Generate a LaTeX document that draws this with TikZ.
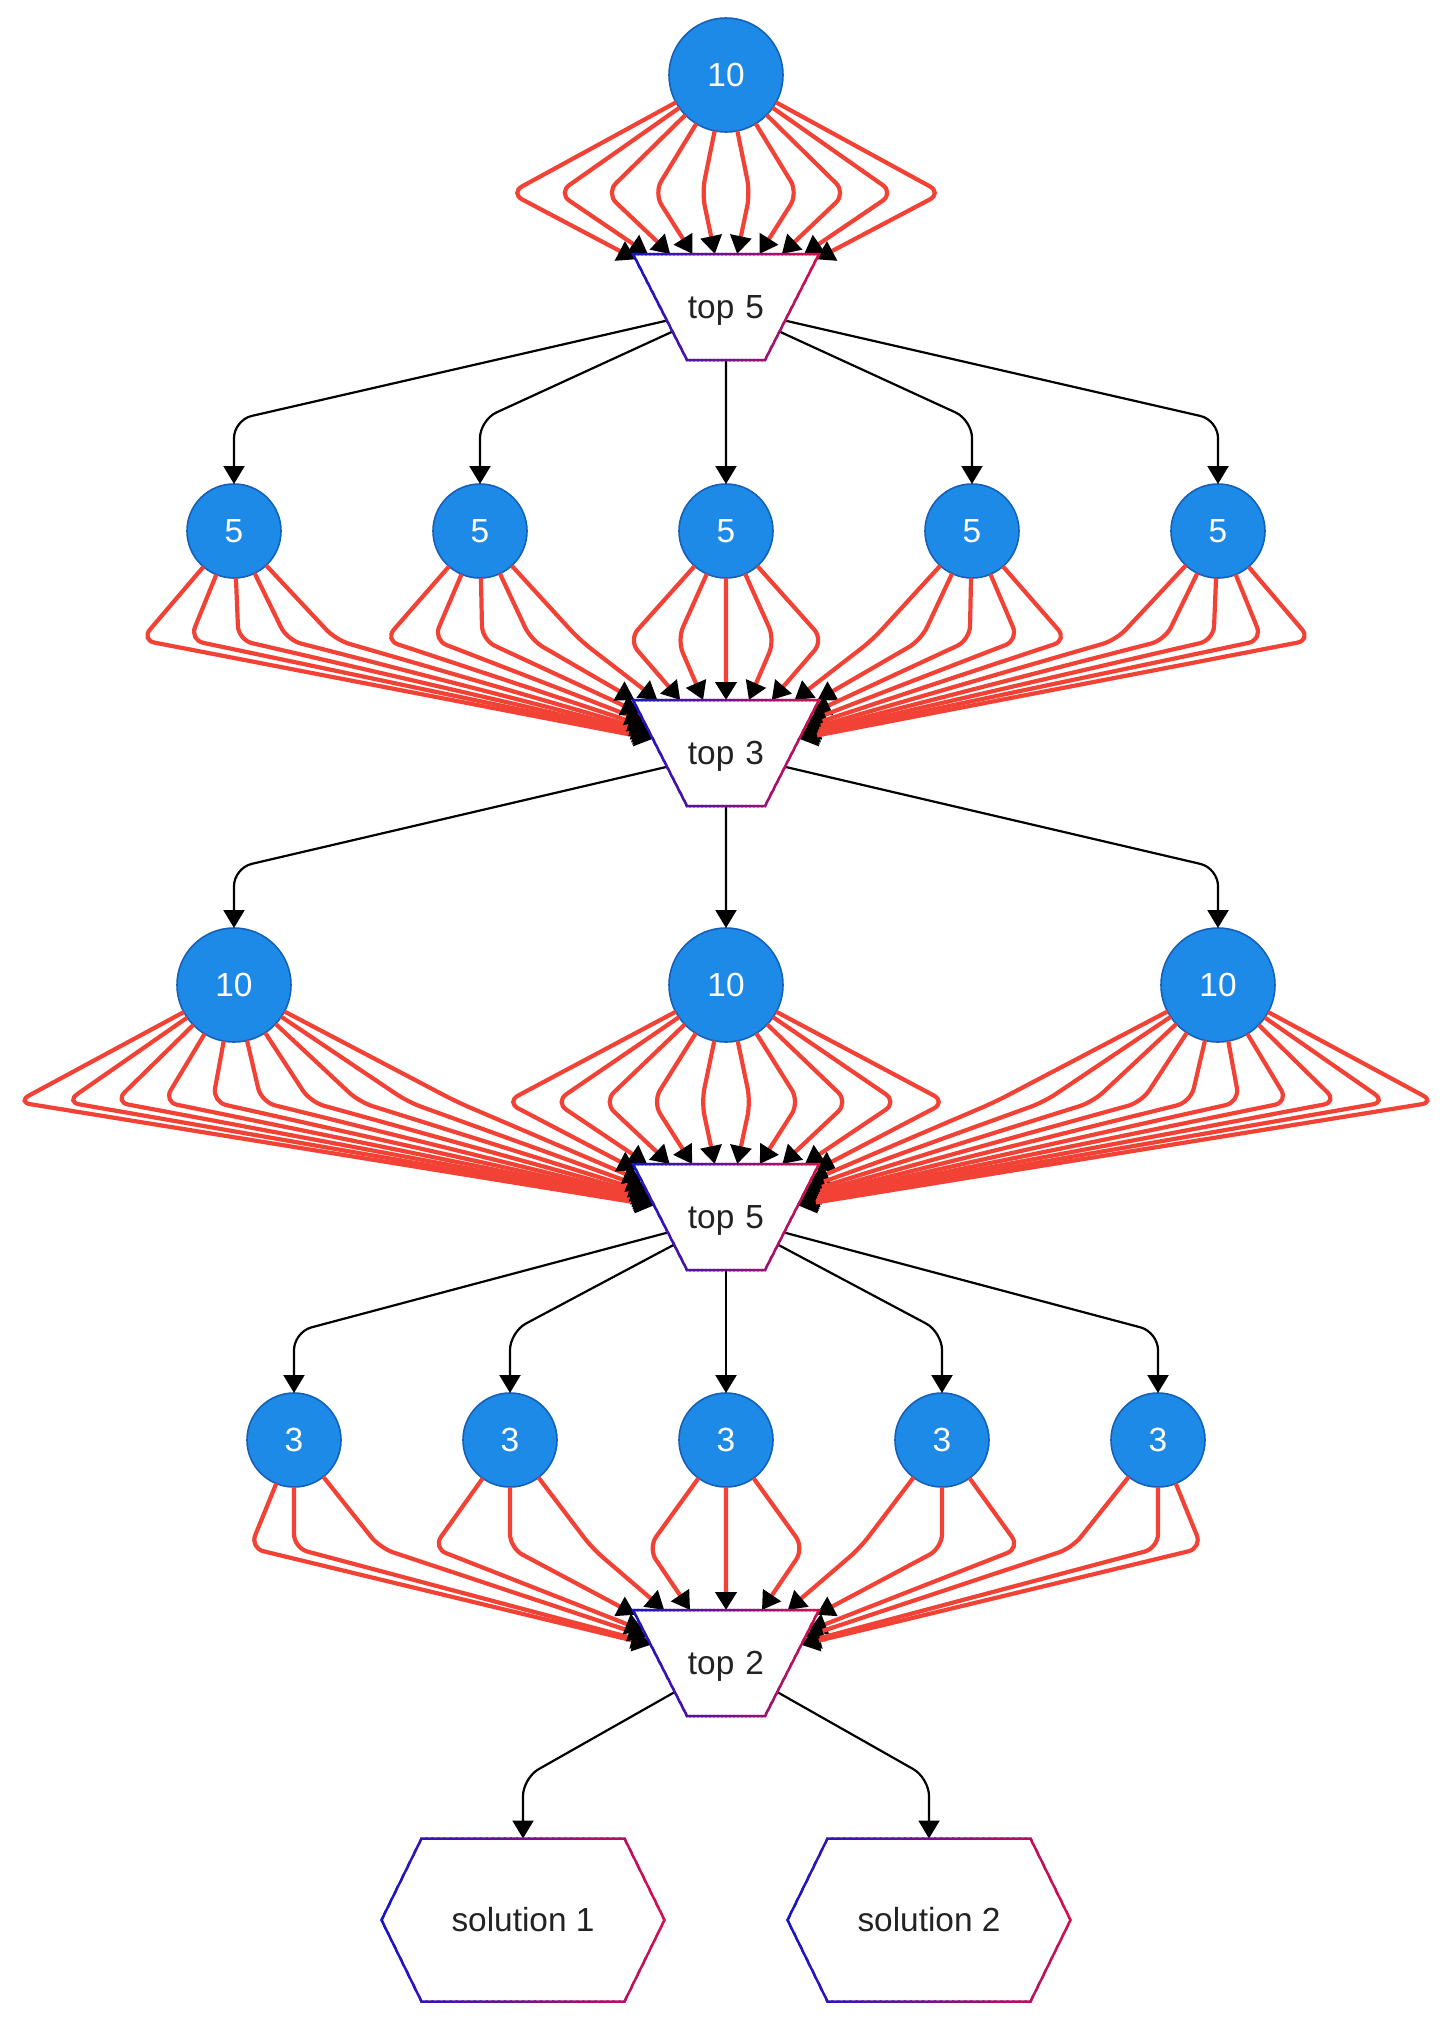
\documentclass[tikz,border=0pt]{standalone}
\usepackage{fontspec}
\setmainfont{Liberation Sans}
\usetikzlibrary{shapes.geometric,arrows.meta}
\definecolor{cfill}{HTML}{1E8AE8}
\definecolor{cborder}{HTML}{1560B8}
\definecolor{redc}{HTML}{F24236}
\definecolor{gblue}{HTML}{1414C8}
\definecolor{gred}{HTML}{D4104E}
\definecolor{textc}{HTML}{222222}
\newcommand\nfont{\fontsize{16.7}{20}\selectfont}
% gradient outline: #1 path, #2 xmin, #3 xmax, #4 ymin, #5 ymax
\newcommand\gradoutline[5]{%
  \foreach \gi in {0,...,47}{%
    \pgfmathsetmacro\gxa{(#2)+((#3)-(#2))*\gi/48-1}%
    \pgfmathsetmacro\gxb{(#2)+((#3)-(#2))*(\gi+1)/48+1}%
    \pgfmathsetmacro\gpc{100-100*(\gi+0.5)/48}%
    \begin{scope}
      \clip (\gxa,#4) rectangle (\gxb,#5);
      \draw[gline, draw=gblue!\gpc!gred] #1;
    \end{scope}
  }%
}
\newcommand\trapoutline[2]{% center x, center y
  \gradoutline{({#1-93},{#2-53}) -- ({#1+93},{#2-53}) -- ({#1+39},{#2+53}) -- ({#1-39},{#2+53}) -- cycle}{#1-96}{#1+96}{#2-58}{#2+58}}
\newcommand\hexoutline[2]{%
  \gradoutline{({#1-141.5},#2) -- ({#1-101.5},{#2-81.5}) -- ({#1+101.5},{#2-81.5}) -- ({#1+141.5},#2) -- ({#1+101.5},{#2+81.5}) -- ({#1-101.5},{#2+81.5}) -- cycle}{#1-145}{#1+145}{#2-86}{#2+86}}
\tikzset{
  num/.style={circle, fill=cfill, draw=cborder, line width=0.8pt, text=white, font=\nfont, inner sep=0pt, outer sep=0pt},
  bigc/.style={num, minimum size=57pt},
  smallc/.style={num, minimum size=47pt},
  trap/.style={trapezium, shape border rotate=180, trapezium left angle=63, trapezium right angle=63,
    inner sep=0pt, outer sep=0pt, text width=39pt, align=center, text height=32.3pt, text depth=20.7pt,
    fill=white, font=\nfont, text=textc},
  hexn/.style={rectangle, minimum width=141.5pt, minimum height=81.5pt, inner sep=0pt, outer sep=0pt,
    font=\nfont, text=textc},
  redge/.style={draw=redc, line width=2.1pt, rounded corners=7pt,
    -{Triangle[width=10.5pt,length=9pt,color=black,fill=black]}},
  bedge/.style={draw=black, line width=1.1pt, rounded corners=9pt,
    -{Triangle[width=10.5pt,length=9pt]}},
  gline/.style={line width=1.25pt, line join=miter},
}
\begin{document}
\begin{tikzpicture}[x=0.5pt, y=-0.5pt]
\useasboundingbox (0,0) rectangle (1456,2026);
% nodes
\node[bigc] (A) at (726,75) {10};
\node[trap] (T1) at (726,307) {top 5};
\foreach \i/\x in {1/234,2/480,3/726,4/972,5/1218}
  \node[smallc] (B\i) at (\x,531) {5};
\node[trap] (T2) at (726,753) {top 3};
\foreach \i/\x in {1/234,2/726,3/1218}
  \node[bigc] (C\i) at (\x,985) {10};
\node[trap] (T3) at (726,1217) {top 5};
\foreach \i/\x in {1/294,2/510,3/726,4/942,5/1158}
  \node[smallc] (D\i) at (\x,1440) {3};
\node[trap] (T4) at (726,1663) {top 2};
\node[hexn] (E1) at (523,1920) {solution 1};
\node[hexn] (E2) at (929,1920) {solution 2};
% red edges
\foreach \k in {0,...,9}
  \draw[redge] (A) -- ({726+(\k-4.5)*48},193) -- (T1);
\foreach \k in {0,...,24}{
  \pgfmathtruncatemacro\c{int(\k/5)+1}
  \draw[redge] (B\c) -- ({726+(\k-12)*48.75},640) -- (T2);
}
\foreach \k in {0,...,29}{
  \pgfmathtruncatemacro\c{int(\k/10)+1}
  \draw[redge] (C\c) -- ({726+(\k-14.5)*48.9},1102) -- (T3);
}
\foreach \s/\x in {D1/250,D1/294,D1/380,D2/433,D2/510,D2/592,D3/648,D3/726,D3/804,D4/860,D4/942,D4/1020,D5/1072,D5/1158,D5/1202}
  \draw[redge] (\s) -- (\x,1548) -- (T4);
% black edges
\foreach \i/\x in {1/234,2/480,4/972,5/1218}
  \draw[bedge] (T1) -- (\x,420) -- (B\i);
\draw[bedge] (T1) -- (B3);
\foreach \i/\x in {1/234,3/1218}
  \draw[bedge] (T2) -- (\x,868) -- (C\i);
\draw[bedge] (T2) -- (C2);
\foreach \i/\x in {1/294,2/510,4/942,5/1158}
  \draw[bedge] (T3) -- (\x,1332) -- (D\i);
\draw[bedge] (T3) -- (D3);
\draw[bedge] (T4) -- (523,1778) -- (E1);
\draw[bedge] (T4) -- (929,1778) -- (E2);
% gradient outlines
\trapoutline{726}{307}
\trapoutline{726}{753}
\trapoutline{726}{1217}
\trapoutline{726}{1663}
\hexoutline{523}{1920}
\hexoutline{929}{1920}
\end{tikzpicture}
\end{document}
